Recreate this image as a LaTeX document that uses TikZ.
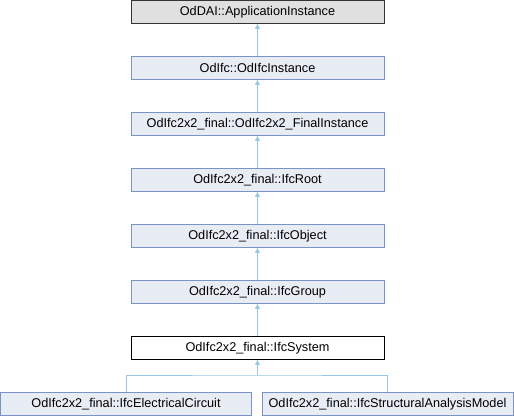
\documentclass[tikz,border=0pt]{standalone}
\usepackage{fontspec}
\setmainfont{Liberation Sans}
\usetikzlibrary{arrows.meta}
\definecolor{boxfill}{RGB}{232,236,245}
\definecolor{boxdraw}{RGB}{122,148,200}
\definecolor{topfill}{RGB}{224,224,224}
\definecolor{edgecol}{RGB}{154,200,226}
\tikzset{
  cls/.style={draw=boxdraw, fill=boxfill, line width=0.9pt, minimum width=253pt, minimum height=23pt, inner sep=0pt, font=\fontsize{12.7}{14}\selectfont},
  wide/.style={cls, minimum width=251pt},
  topcls/.style={cls, draw=black!80, fill=topfill},
  curcls/.style={cls, draw=black, fill=white},
  edge/.style={draw=edgecol, line width=0.9pt},
  arr/.style={edge, -{Triangle[length=5pt,width=5pt]}}
}
\begin{document}
\begin{tikzpicture}[x=1pt,y=-1pt]
\useasboundingbox (0,0) rectangle (514,416);
\node[topcls] (a) at (257.5,12) {OdDAI::ApplicationInstance};
\node[cls] (b) at (257.5,68) {OdIfc::OdIfcInstance};
\node[cls] (c) at (257.5,124) {OdIfc2x2\_final::OdIfc2x2\_FinalInstance};
\node[cls] (d) at (257.5,180) {OdIfc2x2\_final::IfcRoot};
\node[cls] (e) at (257.5,236) {OdIfc2x2\_final::IfcObject};
\node[cls] (f) at (257.5,292) {OdIfc2x2\_final::IfcGroup};
\node[curcls] (g) at (257.5,348) {OdIfc2x2\_final::IfcSystem};
\node[wide] (l) at (126,404) {OdIfc2x2\_final::IfcElectricalCircuit};
\node[wide] (r) at (387.5,404) {OdIfc2x2\_final::IfcStructuralAnalysisModel};
\draw[arr] (b.north) -- (a.south);
\draw[arr] (c.north) -- (b.south);
\draw[arr] (d.north) -- (c.south);
\draw[arr] (e.north) -- (d.south);
\draw[arr] (f.north) -- (e.south);
\draw[arr] (g.north) -- (f.south);
\coordinate (j) at (257.5,375);
\draw[edge] (l.north) |- (j) -| (r.north);
\draw[arr] (j) -- (g.south);
\end{tikzpicture}
\end{document}
